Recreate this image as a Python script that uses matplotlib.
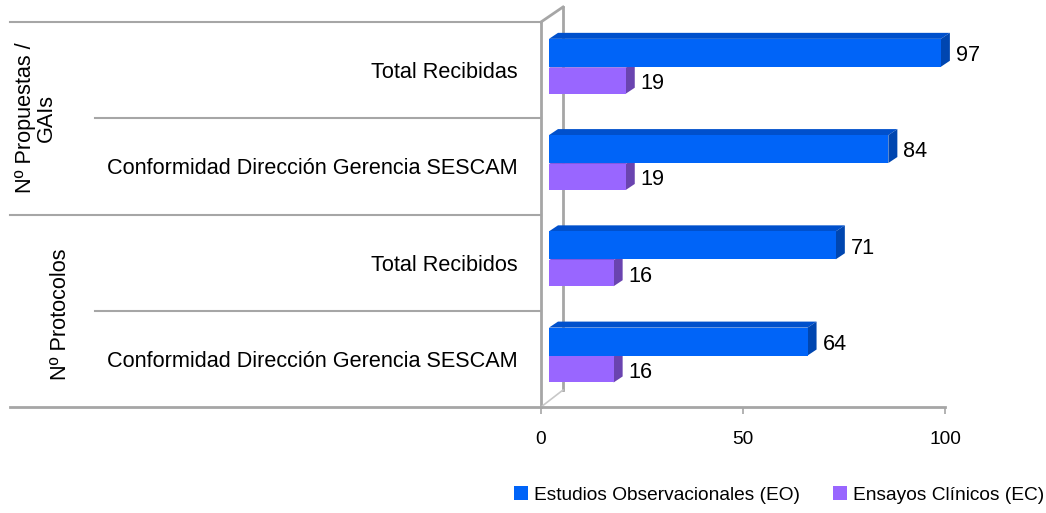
import matplotlib
matplotlib.use("Agg")
import matplotlib.pyplot as plt
from matplotlib.patches import Patch, Polygon
from matplotlib.lines import Line2D
from matplotlib import transforms
import numpy as np

plt.rcParams['font.family'] = ['Liberation Sans', 'DejaVu Sans']

categories = ["Total Recibidas", "Conformidad Dirección Gerencia SESCAM",
              "Total Recibidos", "Conformidad Dirección Gerencia SESCAM"]
groups = ["Nº Propuestas /\nGAIs", "Nº Protocolos"]
eo_values = [97, 84, 71, 64]
ec_values = [19, 19, 16, 16]
series_names = ["Estudios Observacionales (EO)", "Ensayos Clínicos (EC)"]
xticks = [0, 50, 100]

W, H = 1046, 513
DPI = 100
fig = plt.figure(figsize=(W / DPI, H / DPI), dpi=DPI)

def fx(px):
    return px / W

def fy(py):
    return 1 - py / H

ax_l, ax_r, ax_t, ax_b = 541, 945, 22, 407
ax = fig.add_axes([fx(ax_l), fy(ax_b), fx(ax_r - ax_l), (ax_b - ax_t) / H])
ax.set_xlim(0, 100)
ax.set_ylim(3.5, -0.5)
ax.set_facecolor('none')
for s in ax.spines.values():
    s.set_visible(False)

blue_front, blue_top, blue_side = "#0064F8", "#0050CC", "#0046B0"
pur_front, pur_top, pur_side = "#9966FF", "#8055E0", "#6A44B0"
gray = '#A6A6A6'

FS_BIG = 15.6
FS_SMALL = 13.8

def pix(xp, yp):
    return (xp, H - yp)

def wall_line(xs, ys, lw=2, color=gray, z=1):
    pts = [pix(a, b) for a, b in zip(xs, ys)]
    ln = Line2D([p[0] for p in pts], [p[1] for p in pts], color=color, lw=lw,
                transform=transforms.IdentityTransform(), clip_on=False, zorder=z)
    ax.add_line(ln)

# 3D wall (behind bars)
wall_line([541, 541], [22, 407])
wall_line([563, 563], [7, 390])
wall_line([541, 563], [22, 7])
wall_line([541, 563], [407, 390], lw=1.2, color='#C8C8C8')
wall_line([10, 945], [407, 407])

shift = transforms.ScaledTranslation(8 / DPI, 0, fig.dpi_scale_trans)
btrans = ax.transData + shift
y = np.arange(len(categories))
bars_eo = ax.barh(y - 0.18, eo_values, height=0.29, color=blue_front, transform=btrans, zorder=3)
bars_ec = ax.barh(y + 0.11, ec_values, height=0.27, color=pur_front, transform=btrans, zorder=3)

DX, DY = 9, 6  # depth in pixels
def add_3d(bars, top_c, side_c):
    for r in bars:
        x0, y0 = r.get_x(), r.get_y()
        x1, y1 = x0 + r.get_width(), y0 + r.get_height()
        (px0, py_top), (px1, py_bot) = btrans.transform([(x0, y0), (x1, y1)])
        top = Polygon([(px0, py_top), (px1, py_top), (px1 + DX, py_top + DY), (px0 + DX, py_top + DY)],
                      closed=True, facecolor=top_c, edgecolor='none',
                      transform=transforms.IdentityTransform(), clip_on=False, zorder=2.5)
        side = Polygon([(px1, py_top), (px1 + DX, py_top + DY), (px1 + DX, py_bot + DY), (px1, py_bot)],
                       closed=True, facecolor=side_c, edgecolor='none',
                       transform=transforms.IdentityTransform(), clip_on=False, zorder=2.5)
        ax.add_patch(top)
        ax.add_patch(side)

add_3d(bars_eo, blue_top, blue_side)
add_3d(bars_ec, pur_top, pur_side)

lab_off = transforms.ScaledTranslation(23 / DPI, 0, fig.dpi_scale_trans)
for vals, yy in ((eo_values, y - 0.18), (ec_values, y + 0.11)):
    for v, yv in zip(vals, yy):
        ax.text(v, yv + 0.03, str(v), transform=ax.transData + lab_off,
                ha='left', va='center', fontsize=FS_BIG, color='black')

# ticks
ax.set_xticks(xticks)
ax.set_xticklabels([str(t) for t in xticks], fontsize=FS_SMALL)
ax.tick_params(axis='x', length=5, width=1.2, color=gray, pad=12)
ax.set_yticks(y)
ax.set_yticklabels(categories, fontsize=FS_BIG)
ax.tick_params(axis='y', length=0, pad=17)

# category separators
yt = ax.get_yaxis_transform()
for b, xleft in zip([-0.5, 0.5, 1.5, 2.5], [10, 95, 10, 95]):
    xa = (xleft - ax_l) / (ax_r - ax_l)
    ax.add_line(Line2D([xa, 0], [b, b], transform=yt, color=gray, lw=1.5, clip_on=False))

# group labels
fig.text(fx(36), fy(118), groups[0], rotation=90, ha='center', va='center',
         fontsize=FS_BIG, linespacing=1.0)
fig.text(fx(60), fy(314), groups[1], rotation=90, ha='center', va='center', fontsize=FS_BIG)

handles = [Patch(facecolor=blue_front), Patch(facecolor=pur_front)]
fig.legend(handles, series_names, loc='center right', bbox_to_anchor=(fx(1044), fy(495)),
           ncol=2, frameon=False, fontsize=FS_SMALL, handlelength=0.75, handleheight=0.75,
           handletextpad=0.3, columnspacing=1.7, borderaxespad=0, borderpad=0)

fig.savefig("out.png", dpi=DPI)
